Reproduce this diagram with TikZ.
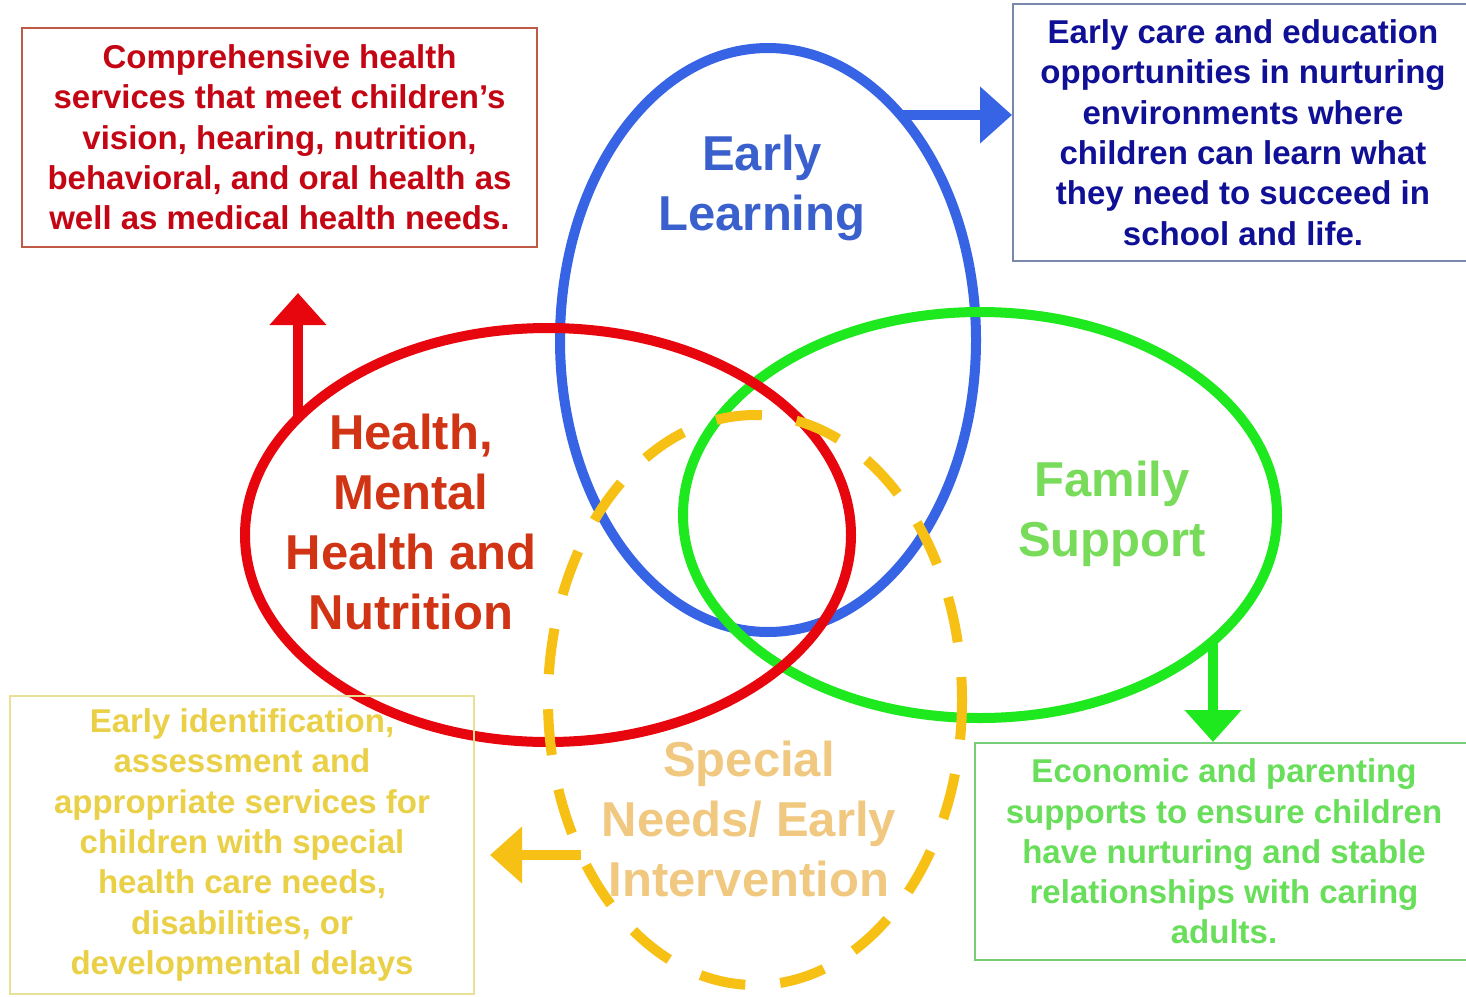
\documentclass[tikz,border=0pt]{standalone}
\usepackage{fontspec}
\setmainfont{Liberation Sans}
\usetikzlibrary{shapes.geometric,arrows.meta}

\definecolor{elblue}{RGB}{55,100,228}
\definecolor{elred}{RGB}{232,6,14}
\definecolor{elgreen}{RGB}{30,232,30}
\definecolor{elyellow}{RGB}{246,192,20}
\definecolor{lblblue}{RGB}{58,96,205}
\definecolor{lblred}{RGB}{208,52,20}
\definecolor{lblgreen}{RGB}{120,220,90}
\definecolor{lblyellow}{RGB}{240,200,128}
\definecolor{txtblue}{RGB}{16,16,150}
\definecolor{txtred}{RGB}{196,6,20}
\definecolor{txtgreen}{RGB}{104,222,90}
\definecolor{txtyellow}{RGB}{234,208,70}
\definecolor{bdblue}{RGB}{120,135,170}
\definecolor{bdred}{RGB}{190,90,70}
\definecolor{bdgreen}{RGB}{120,205,120}
\definecolor{bdyellow}{RGB}{232,224,150}

\begin{document}
\begin{tikzpicture}[x=1pt,y=-1pt,
  ring/.style={ellipse, inner sep=0pt, outer sep=0pt, line width=10pt},
  lbl/.style={align=center, font=\fontsize{49}{60}\selectfont\bfseries},
  infobox/.style={draw, line width=2pt, align=center, inner sep=0pt,
     font=\fontsize{33}{40.3}\selectfont\bfseries},
  bigarrow/.style={line width=10pt, -{Triangle[width=55pt,length=32pt]}}
]
\useasboundingbox[fill=white] (0,0) rectangle (1466,996);

% ellipses
\node[ring, draw=elblue, minimum width=416pt, minimum height=584pt] (learn) at (768,340) {};
\node[ring, draw=elgreen, minimum width=594pt, minimum height=406pt] (family) at (980,515) {};
\node[ring, draw=elred, minimum width=606pt, minimum height=414pt] (health) at (548,535) {};
\node[ring, draw=elyellow, dash pattern=on 46pt off 35pt, dash phase=23pt,
      minimum width=414pt, minimum height=570pt] (special) at (755,700) {};

% ellipse labels
\node[lbl, text=lblblue] (learnlbl) at (762,188) {Early\\Learning};
\node[lbl, text=lblred] (healthlbl) at (411,522) {Health,\\Mental\\Health and\\Nutrition};
\node[lbl, text=lblgreen] (familylbl) at (1112,514) {Family\\Support};
\node[lbl, text=lblyellow] (speciallbl) at (749,819) {Special\\Needs/ Early\\Intervention};

% boxes
\node[infobox, draw=bdred, text=txtred, minimum width=515pt, minimum height=219pt]
  (healthbox) at (279.5,137.5) {Comprehensive health\\services that meet children’s\\vision, hearing, nutrition,\\behavioral, and oral health as\\well as medical health needs.};
\node[infobox, draw=bdblue, text=txtblue, minimum width=460pt, minimum height=257pt]
  (learnbox) at (1243,132.5) {Early care and education\\opportunities in nurturing\\environments where\\children can learn what\\they need to succeed in\\school and life.};
\node[infobox, draw=bdyellow, text=txtyellow, minimum width=464pt, minimum height=298pt]
  (specialbox) at (242,845) {Early identification,\\assessment and\\appropriate services for\\children with special\\health care needs,\\disabilities, or\\developmental delays};
\node[infobox, draw=bdgreen, text=txtgreen, minimum width=498pt, minimum height=217pt]
  (familybox) at (1224,851.5) {Economic and parenting\\supports to ensure children\\have nurturing and stable\\relationships with caring\\adults.};

% arrows
\coordinate (learnout) at (901,115);
\coordinate (healthout) at (298,418);
\coordinate (healthtip) at (298,293);
\coordinate (familyout) at (1213,641);
\coordinate (specialout) at (581,855);
\coordinate (specialtip) at (490,855);

\draw[bigarrow, elblue] (learnout) -- (learnout -| learnbox.west);
\draw[bigarrow, elred] (healthout) -- (healthtip);
\draw[bigarrow, elgreen] (familyout) -- (familyout |- familybox.north);
\draw[bigarrow, elyellow] (specialout) -- (specialtip);
\end{tikzpicture}
\end{document}
